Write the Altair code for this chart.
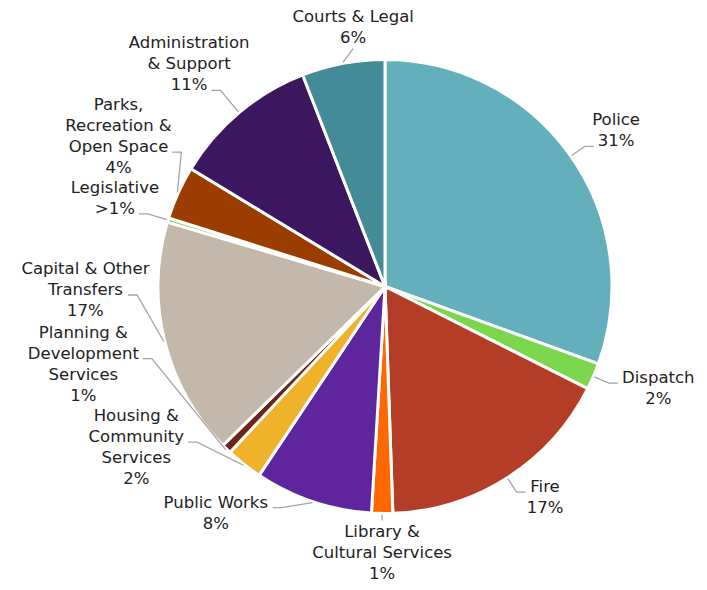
import math
import pandas as pd
import altair as alt

# ---------------- data ----------------
categories = ["Police", "Dispatch", "Fire", "Library & Cultural Services", "Public Works",
              "Housing & Community Services", "Planning & Development Services",
              "Capital & Other Transfers", "Legislative", "Parks, Recreation & Open Space",
              "Administration & Support", "Courts & Legal"]
shares = [30.5, 1.9, 17.0, 1.5, 8.4, 2.6, 0.7, 16.9, 0.3, 3.8, 10.4, 5.9]
pct_labels = ["31%", "2%", "17%", "1%", "8%", "2%", "1%", "17%", ">1%", "4%", "11%", "6%"]
name_lines = [["Police"], ["Dispatch"], ["Fire"], ["Library &", "Cultural Services"],
              ["Public Works"], ["Housing &", "Community", "Services"],
              ["Planning &", "Development", "Services"], ["Capital & Other", "Transfers"],
              ["Legislative"], ["Parks,", "Recreation &", "Open Space"],
              ["Administration", "& Support"], ["Courts & Legal"]]
colors = ["#63b0bc", "#7bd64d", "#b33d27", "#ff6800", "#5e259d", "#f0b22a",
          "#6d2416", "#c4b8aa", "#7bd64d", "#9b3d00", "#3c1760", "#438b97"]

# ---------------- layout settings ----------------
W, H = 691, 574
CX, CY = 377.0, 278.5          # pie centre inside the plot area
R = 227.0
RHO0 = R + 17                  # preferred distance of a label's leader elbow
FONT = "DejaVu Sans"
FS = 16.5
LH = 21.0
PADX, PADY, PIE_GAP = 42.0, 6.0, 8.0

CHAR_W = {' ': .318, '&': .781, '%': .950, ',': .318, '>': .838,
          'A': .684, 'C': .698, 'D': .770, 'F': .575, 'H': .752, 'L': .557, 'O': .787,
          'P': .603, 'R': .695, 'S': .635, 'T': .611, 'W': .989,
          'a': .613, 'b': .635, 'c': .550, 'd': .635, 'e': .615, 'f': .352, 'g': .635,
          'h': .634, 'i': .278, 'k': .579, 'l': .278, 'm': .974, 'n': .634, 'o': .612,
          'p': .635, 'r': .411, 's': .521, 't': .392, 'u': .634, 'v': .592, 'w': .818,
          'x': .592, 'y': .592}
for d in "0123456789":
    CHAR_W[d] = .636


def text_width(s):
    return sum(CHAR_W.get(ch, 0.6) for ch in s) * FS


n = len(categories)
total = sum(shares)
mids = []
acc = 0.0
for s in shares:
    mids.append((acc + s / 2) / total * 2 * math.pi)
    acc += s

lines_all = [nl + [p] for nl, p in zip(name_lines, pct_labels)]
line_w = [[text_width(l) for l in ls] for ls in lines_all]


def layout_label(i, theta, rho):
    """Place label i with its leader elbow at (theta, rho). Screen coords, y down."""
    s, c = math.sin(theta), math.cos(theta)
    ex, ey = rho * s, -rho * c
    nl = len(lines_all[i])
    ws = line_w[i]
    mw = max(ws)
    if abs(s) < 0.3:                      # label straight above / below the pie
        side = 0
        cx = ex
        fb = ey + 4 + 0.76 * FS if c < 0 else ey - 6 - (nl - 1) * LH
    else:                                 # label to the side, elbow on line kk
        side = 1 if s > 0 else -1
        kk = int(round((1 + c) / 2 * (nl - 1)))
        fb = ey - kk * LH
        cx = ex + side * 13 + side * ws[kk] / 2
    box = (cx - mw / 2, fb - 0.76 * FS, cx + mw / 2, fb + (nl - 1) * LH + 1)
    return {"cx": cx, "fb": fb, "box": box, "e": (ex, ey), "side": side, "theta": theta}


def rect_dist(box):
    x0, y0, x1, y1 = box
    nx = 0.0 if x0 <= 0 <= x1 else min(abs(x0), abs(x1))
    ny = 0.0 if y0 <= 0 <= y1 else min(abs(y0), abs(y1))
    return math.hypot(nx, ny)


def feasible(box, placed):
    x0, y0, x1, y1 = box
    if x0 < -CX + 1 or x1 > W - CX - 1 or y0 < -CY + 1 or y1 > H - CY - 1:
        return False
    if rect_dist(box) < R + PIE_GAP:
        return False
    for a0, b0, a1, b1 in placed:
        if x0 < a1 + PADX and a0 < x1 + PADX and y0 < b1 + PADY and b0 < y1 + PADY:
            return False
    return True


# greedy clockwise placement: nudge each label (angle / distance) until it fits,
# keeping the labels in the same clockwise order as their slices
cands = []
for dth in [q * 0.5 for q in range(-8, 121)]:
    for dr in range(-14, 100, 2):
        rho = RHO0 + dr
        arc = rho * abs(math.radians(dth)) * (1.0 if dth >= 0 else 2.5)
        cost = arc + (dr if dr >= 0 else 2.5 * -dr)
        cands.append((cost, dth, rho))
cands.sort()

placed = []
lay = [None] * n
prev_theta = -1.0
for i in range(n):
    chosen = None
    for cost, dth, rho in cands:
        th = mids[i] + math.radians(dth)
        if th < prev_theta + math.radians(1.0):
            continue
        L = layout_label(i, th, rho)
        if feasible(L["box"], placed):
            chosen = L
            break
    if chosen is None:
        chosen = layout_label(i, mids[i], RHO0)
    lay[i] = chosen
    placed.append(chosen["box"])
    prev_theta = chosen["theta"]

# ---------------- tables ----------------
pie_df = pd.DataFrame({"cat": categories, "share": shares, "idx": list(range(n)),
                       "x0": [0.0] * n, "y0": [0.0] * n})

label_df = pd.DataFrame({"cat": categories,
                         "text": ["\n".join(ls) for ls in lines_all],
                         "lx": [L["cx"] for L in lay],
                         "ly": [-L["fb"] for L in lay]})

rows = []
for i in range(n):
    L = lay[i]
    px, py = (R + 1) * math.sin(mids[i]), -(R + 1) * math.cos(mids[i])
    ex, ey = L["e"]
    pts = [(px, py), (ex, ey)]
    if L["side"] != 0:
        pts.append((ex + L["side"] * 9, ey))
    for s, (x, y) in enumerate(pts):
        rows.append({"cat": categories[i], "seq": s, "x": x, "y": -y})
leader_df = pd.DataFrame(rows)

xs = alt.Scale(domain=[-CX, W - CX], nice=False, zero=False)
ys = alt.Scale(domain=[-(H - CY), CY], nice=False, zero=False)

pie = alt.Chart(pie_df).mark_arc(radius=R, stroke="white", strokeWidth=3).encode(
    x=alt.X("x0:Q", scale=xs, axis=None),
    y=alt.Y("y0:Q", scale=ys, axis=None),
    theta=alt.Theta("share:Q", stack=True),
    order=alt.Order("idx:Q", sort="ascending"),
    color=alt.Color("cat:N", scale=alt.Scale(domain=categories, range=colors), legend=None),
)

leaders = alt.Chart(leader_df).mark_line(color="#a3a3a3", strokeWidth=1.3).encode(
    x=alt.X("x:Q", scale=xs, axis=None),
    y=alt.Y("y:Q", scale=ys, axis=None),
    detail="cat:N",
    order=alt.Order("seq:Q"),
)

labels = alt.Chart(label_df).mark_text(
    font=FONT, fontSize=FS, lineHeight=LH, lineBreak="\n", align="center",
    baseline="alphabetic", color="#222222"
).encode(
    x=alt.X("lx:Q", scale=xs, axis=None),
    y=alt.Y("ly:Q", scale=ys, axis=None),
    text="text:N",
)

chart = alt.layer(pie, leaders, labels).properties(
    width=W, height=H, padding=0,
    autosize=alt.AutoSizeParams(type="none"),
).configure_view(stroke=None)

chart.save("out.html", embed_options={"renderer": "svg", "actions": False})
